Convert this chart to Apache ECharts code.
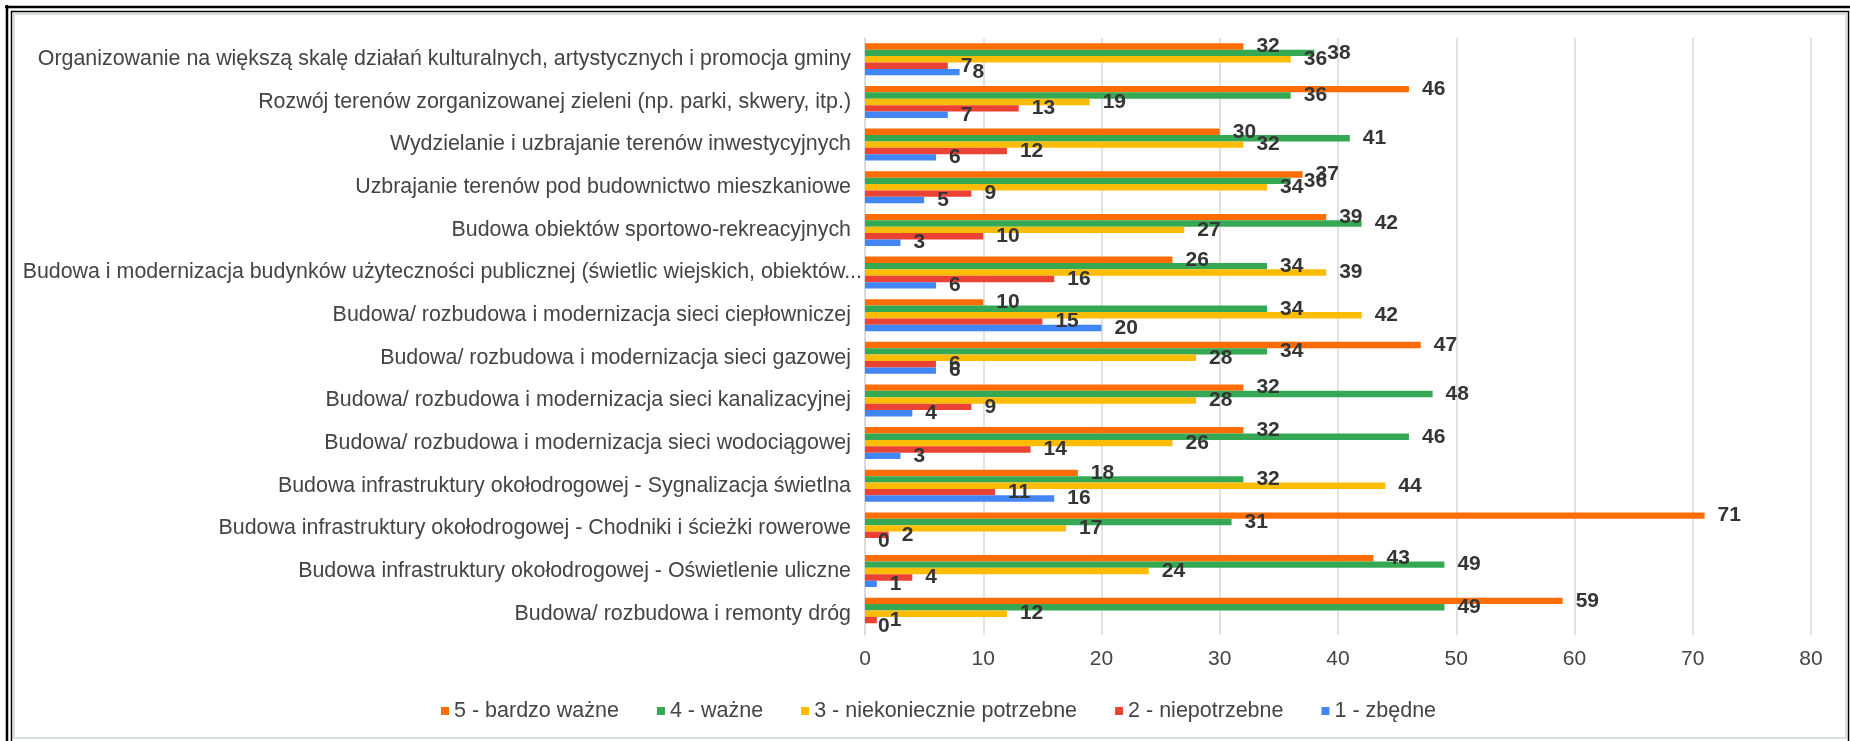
<!DOCTYPE html>
<html>
<head>
<meta charset="utf-8">
<script src="https://cdn.jsdelivr.net/npm/echarts@6/dist/echarts.min.js"></script>
<style>
html,body{margin:0;padding:0;background:#fff;}
#chart{width:1850px;height:741px;}
</style>
</head>
<body>
<div id="chart"></div>
<script>
const categories = [
  "Organizowanie na większą skalę działań kulturalnych, artystycznych i promocja gminy",
  "Rozwój terenów zorganizowanej zieleni (np. parki, skwery, itp.)",
  "Wydzielanie i uzbrajanie terenów inwestycyjnych",
  "Uzbrajanie terenów pod budownictwo mieszkaniowe",
  "Budowa obiektów sportowo-rekreacyjnych",
  "Budowa i modernizacja budynków użyteczności publicznej (świetlic wiejskich, obiektów...",
  "Budowa/ rozbudowa i modernizacja sieci ciepłowniczej",
  "Budowa/ rozbudowa i modernizacja sieci gazowej",
  "Budowa/ rozbudowa i modernizacja sieci kanalizacyjnej",
  "Budowa/ rozbudowa i modernizacja sieci wodociągowej",
  "Budowa infrastruktury okołodrogowej - Sygnalizacja świetlna",
  "Budowa infrastruktury okołodrogowej - Chodniki i ścieżki rowerowe",
  "Budowa infrastruktury okołodrogowej - Oświetlenie uliczne",
  "Budowa/ rozbudowa i remonty dróg"
];
const seriesNames = ["5 - bardzo ważne", "4 - ważne", "3 - niekoniecznie potrzebne", "2 - niepotrzebne", "1 - zbędne"];
const s5 = [32, 46, 30, 37, 39, 26, 10, 47, 32, 32, 18, 71, 43, 59];
const s4 = [38, 36, 41, 36, 42, 34, 34, 34, 48, 46, 32, 31, 49, 49];
const s3 = [36, 19, 32, 34, 27, 39, 42, 28, 28, 26, 44, 17, 24, 12];
const s2 = [7, 13, 12, 9, 10, 16, 15, 6, 9, 14, 11, 2, 4, 1];
const s1 = [8, 7, 6, 5, 3, 6, 20, 6, 4, 3, 16, 0, 1, 0];
const xTicks = [0, 80, 10];

const colors = ["#ff6d01", "#34a853", "#fbbc04", "#ea4335", "#4285f4"];
const values = [s5, s4, s3, s2, s1];
const FONT = "'Liberation Sans', Arial, sans-serif";

const chart = echarts.init(document.getElementById('chart'), null, {renderer: 'canvas'});
const series = values.map((v, i) => ({
  name: seriesNames[i],
  type: 'bar',
  data: v,
  barGap: '0%',
  barCategoryGap: '25%',
  itemStyle: {color: colors[i]},
  label: {
    show: true,
    position: 'right',
    distance: 13,
    fontFamily: FONT,
    fontSize: 21,
    fontWeight: 'bold',
    color: '#353535'
  }
}));

const yLabels = categories.map((c, i) => i === 5
  ? {value: c, textStyle: {padding: [0, -11, 0, 0]}}
  : c);

chart.setOption({
  animation: false,
  backgroundColor: '#fff',
  color: colors,
  textStyle: {fontFamily: FONT},
  grid: {left: 865, right: 39, top: 38, bottom: 106, containLabel: false},
  legend: {
    data: seriesNames,
    left: 436,
    top: 695,
    icon: 'rect',
    itemWidth: 8,
    itemHeight: 8,
    itemGap: 38,
    textStyle: {fontFamily: FONT, fontSize: 21.5, color: '#444'}
  },
  xAxis: {
    type: 'value',
    min: xTicks[0],
    max: xTicks[1],
    interval: xTicks[2],
    axisLine: {show: false},
    axisTick: {show: false},
    splitLine: {show: true, lineStyle: {color: '#d6dada', width: 1.5}},
    axisLabel: {fontFamily: FONT, fontSize: 21, color: '#444', margin: 14}
  },
  yAxis: {
    type: 'category',
    data: yLabels,
    inverse: true,
    axisLine: {show: true, lineStyle: {color: '#d6dada', width: 1.5}},
    axisTick: {show: false},
    axisLabel: {fontFamily: FONT, fontSize: 21.4, color: '#444', margin: 14}
  },
  series: series,
  graphic: [
    {type: 'rect', silent: true, z: 100, shape: {x: 14, y: 14, width: 1832, height: 724}, style: {fill: null, stroke: '#cfd3d3', lineWidth: 1.5}},
    {type: 'line', silent: true, z: 101, shape: {x1: 5, y1: 7, x2: 1850, y2: 7}, style: {stroke: '#000', lineWidth: 2.5}},
    {type: 'line', silent: true, z: 101, shape: {x1: 7, y1: 5, x2: 7, y2: 741}, style: {stroke: '#000', lineWidth: 2.5}},
    {type: 'line', silent: true, z: 101, shape: {x1: 11, y1: 11.5, x2: 1849, y2: 11.5}, style: {stroke: '#000', lineWidth: 1.5}},
    {type: 'line', silent: true, z: 101, shape: {x1: 11.5, y1: 11, x2: 11.5, y2: 741}, style: {stroke: '#000', lineWidth: 1.5}},
    {type: 'line', silent: true, z: 101, shape: {x1: 1848.5, y1: 11, x2: 1848.5, y2: 741}, style: {stroke: '#000', lineWidth: 1.5}}
  ]
});
</script>
</body>
</html>
